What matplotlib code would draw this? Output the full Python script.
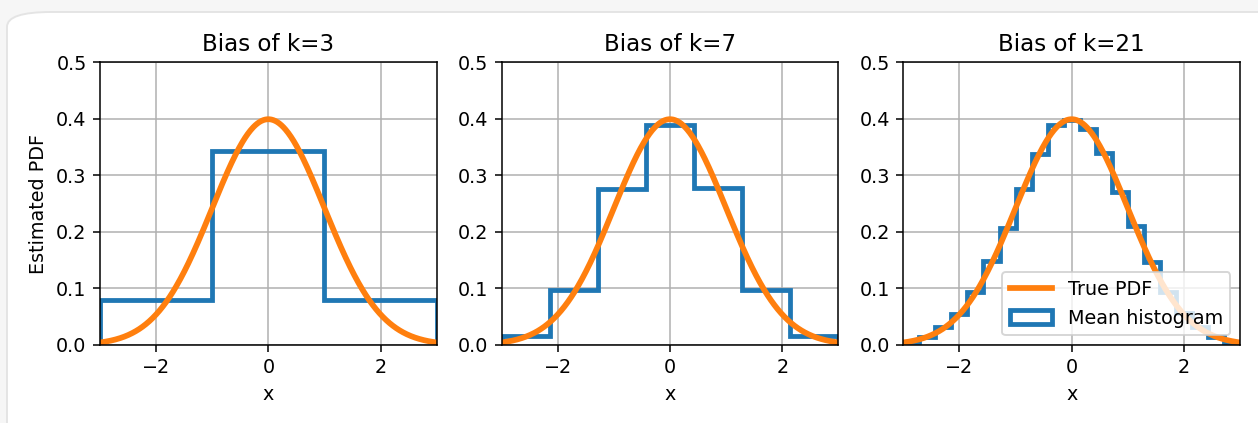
import numpy as np
import matplotlib.pyplot as plt
from matplotlib.patches import FancyBboxPatch

# bin counts and averaged histogram heights (density) over [-3, 3]
bin_counts = [3, 7, 21]
mean_hist = {
    3: [0.079, 0.343, 0.079],
    7: [0.016, 0.098, 0.275, 0.389, 0.278, 0.098, 0.016],
    21: [0.005, 0.015, 0.031, 0.055, 0.093, 0.148, 0.206, 0.275, 0.338, 0.388, 0.397,
         0.381, 0.340, 0.270, 0.211, 0.146, 0.094, 0.057, 0.031, 0.015, 0.005],
}
x_range = (-3, 3)
x_ticks = [-2, 0, 2]

dpi = 138
fig, axes = plt.subplots(1, 3, figsize=(1258 / dpi, 423 / dpi), dpi=dpi)
fig.patch.set_facecolor('#f6f6f6')
fig.subplots_adjust(left=0.0795, right=0.9857, bottom=0.1844, top=0.8534, wspace=0.193)

# white card behind the plots
card = FancyBboxPatch((7 / 1258, -0.2), 1.2, 1.2 - 12 / 423,
                      boxstyle='round,pad=0,rounding_size=0.035',
                      transform=fig.transFigure, facecolor='white',
                      edgecolor='#e4e4e4', linewidth=1.0, zorder=-10)
fig.patches.append(card)

x = np.linspace(x_range[0], x_range[1], 500)
pdf = np.exp(-x ** 2 / 2) / np.sqrt(2 * np.pi)

for ax, k in zip(axes, bin_counts):
    edges = np.linspace(x_range[0], x_range[1], k + 1)
    _, _, hist_patches = ax.hist(edges[:-1], bins=edges, weights=mean_hist[k], histtype='step',
                                 color='#1f77b4', linewidth=2.5, label='Mean histogram')
    line, = ax.plot(x, pdf, color='#ff7f0e', linewidth=3, label='True PDF')
    ax.set_xlim(x_range)
    ax.set_ylim(0, 0.5)
    ax.set_xticks(x_ticks)
    ax.set_title('Bias of k=%d' % k)
    ax.set_xlabel('x')
    ax.grid(True)

axes[0].set_ylabel('Estimated PDF')
axes[2].legend([line, hist_patches[0]], ['True PDF', 'Mean histogram'],
               loc='lower right', handlelength=2.2)

plt.savefig('out.png', dpi=dpi, facecolor=fig.get_facecolor())
